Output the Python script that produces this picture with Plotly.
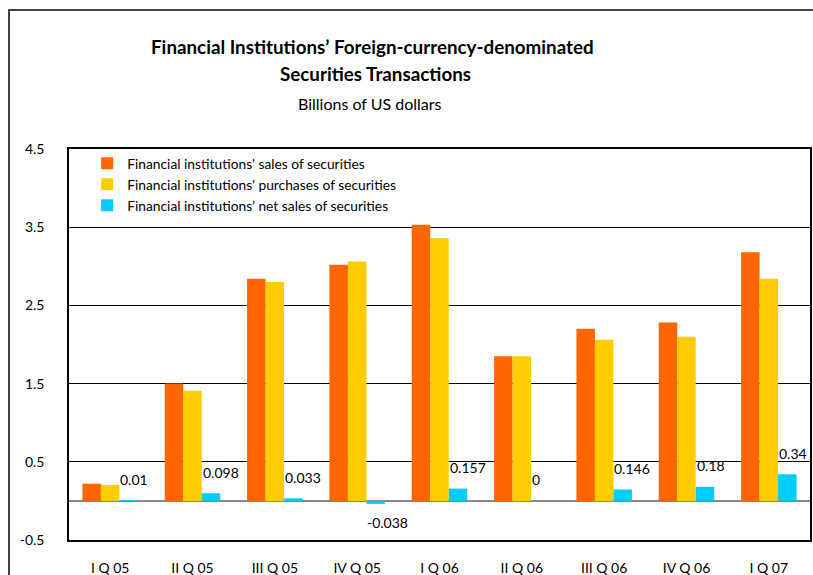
import plotly.graph_objects as go

categories = ["I Q 05", "II Q 05", "III Q 05", "IV Q 05", "I Q 06",
              "II Q 06", "III Q 06", "IV Q 06", "I Q 07"]
sales = [0.22, 1.50, 2.84, 3.02, 3.53, 1.85, 2.20, 2.28, 3.18]
purchases = [0.205, 1.41, 2.80, 3.06, 3.36, 1.85, 2.06, 2.10, 2.84]
net_sales = [0.01, 0.098, 0.033, -0.038, 0.157, 0, 0.146, 0.18, 0.34]
net_labels = ["0.01", "0.098", "0.033", "-0.038", "0.157", "0", "0.146", "0.18", "0.34"]
y_ticks = [-0.5, 0.5, 1.5, 2.5, 3.5, 4.5]

FONT = "Lato"

fig = go.Figure()
fig.add_bar(x=categories, y=sales, name="Financial institutions’ sales of securities",
            marker=dict(color="#FF6600", line_width=0))
fig.add_bar(x=categories, y=purchases, name="Financial institutions’ purchases of securities",
            marker=dict(color="#FFCC00", line_width=0))
fig.add_bar(x=categories, y=net_sales, name="Financial institutions’ net sales of securities",
            marker=dict(color="#00CCFF", line_width=0))

for c, v, t in zip(categories, net_sales, net_labels):
    fig.add_annotation(x=c, y=v, text=t, showarrow=False, xanchor="left",
                       yanchor="middle", xshift=8, yshift=(21 if v >= 0 else -19),
                       font=dict(family=FONT, size=14, color="#000"))

# titles
fig.add_annotation(xref="paper", yref="paper", x=(372 - 69) / 741, y=(540 - 46) / 391,
                   text="<b>Financial Institutions’ Foreign-currency-denominated</b>",
                   showarrow=False, xanchor="center", yanchor="middle",
                   font=dict(family=FONT, size=18.8, color="#000"))
fig.add_annotation(xref="paper", yref="paper", x=(375 - 69) / 741, y=(540 - 74) / 391,
                   text="<b>Securities Transactions</b>",
                   showarrow=False, xanchor="center", yanchor="middle",
                   font=dict(family=FONT, size=18.8, color="#000"))
fig.add_annotation(xref="paper", yref="paper", x=(370 - 69) / 741, y=(540 - 103) / 391,
                   text="Billions of US dollars",
                   showarrow=False, xanchor="center", yanchor="middle",
                   font=dict(family=FONT, size=16, color="#000"))

# outer frame
fig.add_shape(type="rect", xref="paper", yref="paper",
              x0=(9 - 69) / 741, x1=1.2, y0=-0.3, y1=(540 - 10) / 391,
              line=dict(color="#444", width=2), layer="below")

fig.update_layout(
    width=813, height=575,
    margin=dict(l=69, r=3, t=149, b=35, autoexpand=False),
    paper_bgcolor="white", plot_bgcolor="white",
    barmode="group", bargap=0.326, bargroupgap=0,
    font=dict(family=FONT, size=13, color="#000"),
    showlegend=True,
    legend=dict(x=0.0245, y=1.003, xanchor="left", yanchor="top",
                bgcolor="rgba(0,0,0,0)", font=dict(family=FONT, size=13.8),
                tracegroupgap=0, itemsizing="constant"),
    xaxis=dict(showline=True, linecolor="#000", linewidth=1.5, mirror=True,
               showgrid=False, ticks="", ticklabelstandoff=14, automargin=False,
               tickfont=dict(family=FONT, size=14)),
    yaxis=dict(range=[-0.5, 4.5], tickvals=y_ticks, ticktext=[str(v) for v in y_ticks],
               showline=True, linecolor="#000", linewidth=1.5, mirror=True,
               showgrid=True, gridcolor="#000", gridwidth=1,
               zeroline=True, zerolinecolor="#888", zerolinewidth=1.5, automargin=False,
               ticks="", ticklabelstandoff=20, tickfont=dict(family=FONT, size=14)),
)

fig.write_html("out.html", config={"displayModeBar": False},
               post_script="document.body.style.margin='0';")
